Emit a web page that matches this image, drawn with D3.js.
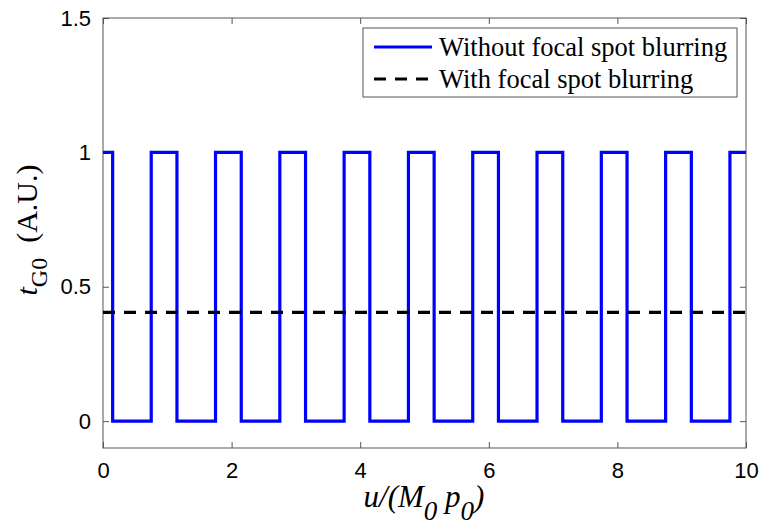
<!DOCTYPE html>
<html>
<head>
<meta charset="utf-8">
<script src="https://cdn.jsdelivr.net/npm/d3@7"></script>
<style>
  body { margin: 0; background: #fff; }
  .tick text { font-family: "Liberation Sans", Arial, sans-serif; font-size: 22px; fill: #000; }
</style>
</head>
<body>
<div id="chart"></div>
<script>
// Square wave: u positions where the level changes, and level from there on
const uEdges = [0, 0.15, 0.75, 1.15, 1.75, 2.15, 2.75, 3.15, 3.75, 4.15, 4.75,
                5.15, 5.75, 6.15, 6.75, 7.15, 7.75, 8.15, 8.75, 9.15, 9.75, 10];
const tLevels = [1, 0, 1, 0, 1, 0, 1, 0, 1, 0, 1,
                 0, 1, 0, 1, 0, 1, 0, 1, 0, 1, 1];

// Blurred version is flat
const uBlur = [0, 10];
const tBlur = [0.405, 0.405];

const xTicks = [0, 2, 4, 6, 8, 10];
const yTicks = [0, 0.5, 1, 1.5];
const legendLabels = ['Without focal spot blurring', 'With focal spot blurring'];

/*
 *  Draw chart
 */
const width = 762;
const height = 529;
const margin = { top: 18, right: 16, bottom: 81, left: 103 };

const svg = d3.select('#chart').append('svg')
    .attr('width', width)
    .attr('height', height);

const xScale = d3.scaleLinear()
    .domain([0, 10])
    .range([margin.left, width - margin.right]);

const yScale = d3.scaleLinear()
    .domain([-0.1, 1.5])
    .range([height - margin.bottom, margin.top]);

// Axes with inward ticks, mirrored on top and right
const x0 = margin.left, x1 = width - margin.right;
const y0 = height - margin.bottom, y1 = margin.top;

svg.append('g')
    .attr('transform', `translate(0,${y0})`)
    .call(d3.axisBottom(xScale).tickValues(xTicks).tickSize(-6).tickPadding(14).tickFormat(d3.format('')))
    .call(g => g.select('.domain').remove());

svg.append('g')
    .attr('transform', `translate(0,${y1})`)
    .call(d3.axisTop(xScale).tickValues(xTicks).tickSize(-6).tickFormat(''))
    .call(g => g.select('.domain').remove());

svg.append('g')
    .attr('transform', `translate(${x0},0)`)
    .call(d3.axisLeft(yScale).tickValues(yTicks).tickSize(-6).tickPadding(12).tickFormat(d3.format('')))
    .call(g => g.select('.domain').remove());

svg.append('g')
    .attr('transform', `translate(${x1},0)`)
    .call(d3.axisRight(yScale).tickValues(yTicks).tickSize(-6).tickFormat(''))
    .call(g => g.select('.domain').remove());

svg.selectAll('.tick line').attr('stroke', '#555');

svg.append('rect')
    .attr('x', x0).attr('y', y1)
    .attr('width', x1 - x0).attr('height', y0 - y1)
    .attr('fill', 'none')
    .attr('stroke', '#555')
    .attr('stroke-width', 1);

// Lines
const wave = d3.line()
    .x((d, i) => xScale(uEdges[i]))
    .y(d => yScale(d))
    .curve(d3.curveStepAfter);

svg.append('path')
    .attr('d', wave(tLevels))
    .attr('fill', 'none')
    .attr('stroke', '#0000ff')
    .attr('stroke-width', 3.2);

const flat = d3.line()
    .x((d, i) => xScale(uBlur[i]))
    .y(d => yScale(d));

svg.append('path')
    .attr('d', flat(tBlur))
    .attr('fill', 'none')
    .attr('stroke', '#000')
    .attr('stroke-width', 3.2)
    .attr('stroke-dasharray', '12,9');

// Legend
const legend = svg.append('g').attr('transform', 'translate(363,28)');
legend.append('rect')
    .attr('width', 374).attr('height', 69)
    .attr('fill', '#fff')
    .attr('stroke', '#555');

legendLabels.forEach((label, i) => {
    const cy = 19 + i * 32;
    legend.append('line')
        .attr('x1', 11).attr('x2', 69)
        .attr('y1', cy).attr('y2', cy)
        .attr('stroke', i === 0 ? '#0000ff' : '#000')
        .attr('stroke-width', 3.2)
        .attr('stroke-dasharray', i === 0 ? null : '12,9');
    legend.append('text')
        .attr('x', 76).attr('y', cy + 9)
        .attr('font-family', '"Liberation Serif", "Times New Roman", serif')
        .attr('font-size', 26.5)
        .text(label);
});

// Axis labels
const xLabel = svg.append('text')
    .attr('x', 424).attr('y', 507)
    .attr('text-anchor', 'middle')
    .attr('font-family', '"Liberation Serif", "Times New Roman", serif')
    .attr('font-style', 'italic')
    .attr('font-size', 31);
xLabel.append('tspan').text('u/(M');
xLabel.append('tspan').attr('dy', 13).attr('font-size', 27).text('0');
xLabel.append('tspan').attr('dy', -13).text(' p');
xLabel.append('tspan').attr('dy', 13).attr('font-size', 27).text('0');
xLabel.append('tspan').attr('dy', -13).text(')');

const yLabel = svg.append('text')
    .attr('transform', 'translate(37,230) rotate(-90)')
    .attr('text-anchor', 'middle')
    .attr('font-family', '"Liberation Serif", "Times New Roman", serif')
    .attr('font-size', 30);
yLabel.append('tspan').attr('font-style', 'italic').text('t');
yLabel.append('tspan').attr('dy', 10).attr('font-size', 24).text('G0');
yLabel.append('tspan').attr('dy', -10).text('\u00a0 (A.U.)');
</script>
</body>
</html>
